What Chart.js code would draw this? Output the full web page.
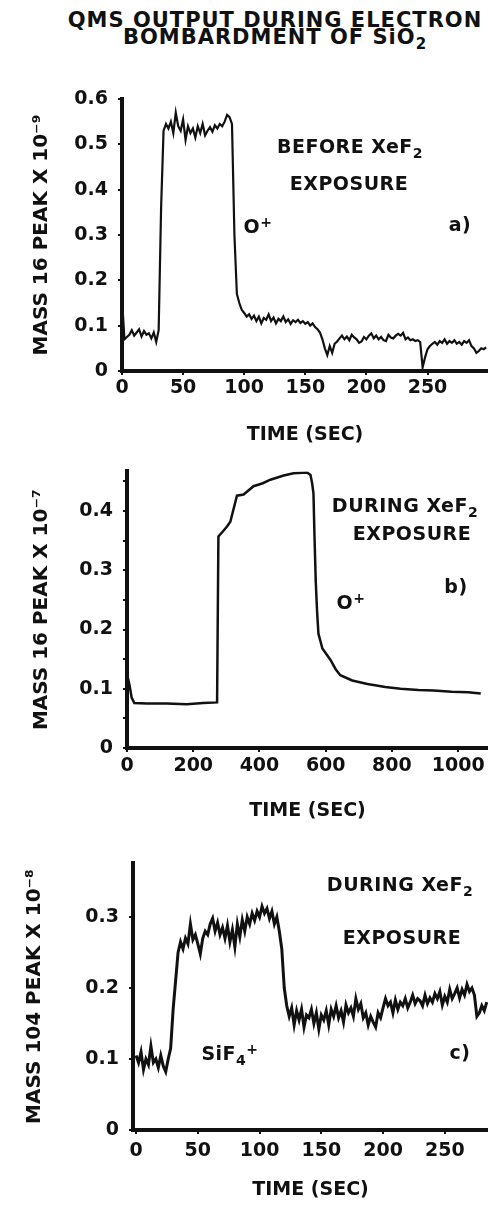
<!DOCTYPE html>
<html>
<head>
<meta charset="utf-8">
<script src="https://cdn.jsdelivr.net/npm/chart.js@4.4.1/dist/chart.umd.min.js"></script>
<style>
  html, body { margin: 0; padding: 0; background: #fff; overflow: hidden; }
  body { width: 488px; height: 1205px; position: relative; font-family: 'DejaVu Sans', sans-serif; color: #111; }
  canvas { position: absolute; left: 0; }
  .title { position: absolute; left: 0; width: 550px; top: 12px; text-align: center; font-weight: bold; font-size: 21px; line-height: 17px; letter-spacing: 1px; }
  .note { position: absolute; font-weight: bold; font-size: 19px; letter-spacing: 0.5px; white-space: nowrap; transform: translate(-50%, -50%); line-height: 20px; }
  .note sub { font-size: 14px; vertical-align: -5px; line-height: 0; }
  .note sup { font-size: 14px; vertical-align: 6px; line-height: 0; }
  .title sub { font-size: 15px; vertical-align: -5px; line-height: 0; }
</style>
</head>
<body>
<div class="title">QMS OUTPUT DURING ELECTRON<br>BOMBARDMENT OF SiO<sub>2</sub></div>

<canvas id="chart-a" width="488" height="395" style="top:55px"></canvas>
<canvas id="chart-b" width="488" height="375" style="top:450px"></canvas>
<canvas id="chart-c" width="488" height="380" style="top:825px"></canvas>

<div class="note" style="left:350px; top:146px">BEFORE XeF<sub>2</sub></div>
<div class="note" style="left:349px; top:183px">EXPOSURE</div>
<div class="note" style="left:258px; top:226px">O<sup>+</sup></div>
<div class="note" style="left:460px; top:224px">a)</div>

<div class="note" style="left:405px; top:505px">DURING XeF<sub>2</sub></div>
<div class="note" style="left:412px; top:533px">EXPOSURE</div>
<div class="note" style="left:456px; top:586px">b)</div>
<div class="note" style="left:351px; top:602px">O<sup>+</sup></div>

<div class="note" style="left:400px; top:884px">DURING XeF<sub>2</sub></div>
<div class="note" style="left:402px; top:937px">EXPOSURE</div>
<div class="note" style="left:230px; top:1053px">SiF<sub>4</sub><sup>+</sup></div>
<div class="note" style="left:460px; top:1052px">c)</div>

<script>
// ------------------------------------------------------------
// data
// ------------------------------------------------------------

// a) mass 16 before XeF2 exposure (x 10^-9)
const timeA = [
  0, 2, 4, 6, 8, 10, 12, 14, 16, 18,
  20, 22, 24, 26, 28, 30, 32, 34, 36, 38,
  40, 42, 44, 46, 48, 50, 52, 54, 56, 58,
  60, 62, 64, 66, 68, 70, 72, 74, 76, 78,
  80, 82, 84, 86, 88, 90, 92, 94, 96, 98,
  100, 102, 104, 106, 108, 110, 112, 114, 116, 118,
  120, 122, 124, 126, 128, 130, 132, 134, 136, 138,
  140, 142, 144, 146, 148, 150, 152, 154, 156, 158,
  160, 162, 164, 166, 168, 170, 172, 174, 176, 178,
  180, 182, 184, 186, 188, 190, 192, 194, 196, 198,
  200, 202, 204, 206, 208, 210, 212, 214, 216, 218,
  220, 222, 224, 226, 228, 230, 232, 234, 236, 238,
  240, 242, 244, 246, 248, 250, 252, 254, 256, 258,
  260, 262, 264, 266, 268, 270, 272, 274, 276, 278,
  280, 282, 284, 286, 288, 290, 292, 294, 296, 298
];
const o16Before = [
  0.16, 0.07, 0.075, 0.08, 0.09, 0.078, 0.085, 0.092, 0.076, 0.088,
  0.08, 0.083, 0.072, 0.085, 0.064, 0.09, 0.36, 0.53, 0.545, 0.535,
  0.55, 0.525, 0.57, 0.54, 0.53, 0.555, 0.51, 0.54, 0.525, 0.535,
  0.515, 0.54, 0.525, 0.545, 0.52, 0.53, 0.538, 0.528, 0.542, 0.535,
  0.545, 0.54, 0.55, 0.565, 0.56, 0.545, 0.30, 0.17, 0.15, 0.135,
  0.128, 0.12, 0.125, 0.115, 0.122, 0.11, 0.12, 0.105, 0.117, 0.113,
  0.125, 0.11, 0.118, 0.105, 0.115, 0.11, 0.12, 0.108, 0.114, 0.104,
  0.112, 0.108, 0.113, 0.106, 0.11, 0.104, 0.108, 0.1, 0.105, 0.097,
  0.092, 0.085, 0.07, 0.05, 0.035, 0.055, 0.04, 0.06, 0.065, 0.072,
  0.078, 0.07, 0.076, 0.068, 0.08, 0.074, 0.07, 0.062, 0.065, 0.075,
  0.07, 0.078, 0.083, 0.072, 0.078, 0.07, 0.075, 0.068, 0.066, 0.08,
  0.074, 0.072, 0.078, 0.082, 0.078, 0.084, 0.07, 0.074, 0.068, 0.07,
  0.066, 0.068, 0.064, 0.008, 0.03, 0.048, 0.055, 0.06, 0.064, 0.058,
  0.066, 0.062, 0.07, 0.06, 0.066, 0.062, 0.068, 0.06, 0.064, 0.058,
  0.066, 0.062, 0.068, 0.055, 0.05, 0.04, 0.044, 0.05, 0.048, 0.052
];
const xTicksA = [0, 50, 100, 150, 200, 250];
const yTicksA = [0, 0.1, 0.2, 0.3, 0.4, 0.5, 0.6];

// b) mass 16 during XeF2 exposure (x 10^-7)
const timeB = [
  0, 4, 8, 14, 22, 60, 120, 180, 230, 272,
  276, 290, 302, 312, 332, 352, 382, 410, 433, 473,
  503, 544, 554, 559, 563, 566, 570, 574, 578, 590,
  614, 630, 644, 680, 726, 780, 826, 880, 926, 980,
  1030, 1068
];
const o16During = [
  0.09, 0.115, 0.105, 0.085, 0.076, 0.075, 0.075, 0.074, 0.076, 0.077,
  0.357, 0.366, 0.374, 0.382, 0.426, 0.428, 0.442, 0.447, 0.453, 0.46,
  0.464, 0.465, 0.461, 0.447, 0.43, 0.36, 0.28, 0.23, 0.193, 0.168,
  0.149, 0.133, 0.123, 0.114, 0.108, 0.103, 0.1, 0.098, 0.097, 0.095,
  0.094, 0.092
];
const xTicksB = [0, 200, 400, 600, 800, 1000];
const yTicksB = [0, 0.05, 0.1, 0.15, 0.2, 0.25, 0.3, 0.35, 0.4, 0.45];

// c) mass 104 (SiF4+) during XeF2 exposure (x 10^-8)
const timeC = [
  0, 2, 4, 6, 8, 10, 12, 14, 16, 18,
  20, 22, 24, 26, 28, 30, 32, 34, 36, 38,
  40, 42, 44, 46, 48, 50, 52, 54, 56, 58,
  60, 62, 64, 66, 68, 70, 72, 74, 76, 78,
  80, 82, 84, 86, 88, 90, 92, 94, 96, 98,
  100, 102, 104, 106, 108, 110, 112, 114, 116, 118,
  120, 122, 124, 126, 128, 130, 132, 134, 136, 138,
  140, 142, 144, 146, 148, 150, 152, 154, 156, 158,
  160, 162, 164, 166, 168, 170, 172, 174, 176, 178,
  180, 182, 184, 186, 188, 190, 192, 194, 196, 198,
  200, 202, 204, 206, 208, 210, 212, 214, 216, 218,
  220, 222, 224, 226, 228, 230, 232, 234, 236, 238,
  240, 242, 244, 246, 248, 250, 252, 254, 256, 258,
  260, 262, 264, 266, 268, 270, 272, 274, 276, 278,
  280, 282, 284
];
const sif4During = [
  0.105, 0.095, 0.11, 0.085, 0.1, 0.092, 0.118, 0.095, 0.1, 0.088,
  0.105, 0.09, 0.082, 0.1, 0.115, 0.17, 0.21, 0.25, 0.265, 0.255,
  0.27, 0.262, 0.29, 0.268, 0.275, 0.262, 0.248, 0.27, 0.28, 0.275,
  0.29, 0.298, 0.28, 0.292, 0.275, 0.285, 0.27, 0.288, 0.265, 0.282,
  0.258, 0.29, 0.272, 0.296, 0.28, 0.3, 0.29, 0.305, 0.295, 0.308,
  0.3, 0.315, 0.305, 0.312, 0.298, 0.308, 0.29, 0.3, 0.28, 0.255,
  0.2, 0.175, 0.16, 0.172, 0.148, 0.168, 0.155, 0.17, 0.145, 0.162,
  0.158, 0.17, 0.15, 0.165, 0.142, 0.162, 0.155, 0.168, 0.148, 0.17,
  0.16, 0.175, 0.158, 0.168, 0.152, 0.176, 0.165, 0.172, 0.16, 0.185,
  0.17, 0.178, 0.158, 0.165, 0.148, 0.16, 0.152, 0.145, 0.165, 0.158,
  0.172, 0.185, 0.175, 0.18, 0.165, 0.183, 0.17, 0.18, 0.175, 0.185,
  0.172, 0.18, 0.19, 0.178, 0.185, 0.182, 0.175, 0.19, 0.178, 0.186,
  0.18, 0.192, 0.185, 0.195, 0.176, 0.188, 0.18, 0.198, 0.185, 0.192,
  0.2, 0.186, 0.198, 0.19, 0.205, 0.195, 0.2, 0.19, 0.16, 0.165,
  0.175, 0.168, 0.18
];
const xTicksC = [0, 50, 100, 150, 200, 250];
const yTicksC = [0, 0.1, 0.2, 0.3];

// ------------------------------------------------------------
// shared panel builder
// ------------------------------------------------------------
const INK = '#111';
const FONT = 'DejaVu Sans';

// only label the tenths (panel b has unlabelled marks at .05)
function fmtTenths(v) {
  const r = Math.round(v * 100);
  if (r % 10 !== 0) return '';
  return String(r / 100);
}

function makePanel(id, times, values, p) {
  const canvas = document.getElementById(id);
  const tickFont = { family: FONT, size: 19, weight: 'bold' };
  const xTitleFont = { family: FONT, size: 19, weight: 'bold' };
  const yTitleFont = { family: FONT, size: 20, weight: 'bold' };
  const tickGrid = { drawOnChartArea: false, drawTicks: true, tickLength: 4, color: INK, lineWidth: 2 };

  return new Chart(canvas, {
    type: 'line',
    data: {
      datasets: [{
        data: times.map((t, i) => ({ x: t, y: values[i] })),
        borderColor: INK,
        borderWidth: p.lineWidth,
        pointRadius: 0,
        tension: 0,
        fill: false,
      }]
    },
    options: {
      responsive: false,
      animation: false,
      events: [],
      layout: { padding: { top: p.padTop, right: 0, bottom: 0, left: 0 } },
      plugins: { legend: { display: false }, tooltip: { enabled: false } },
      scales: {
        x: {
          type: 'linear',
          min: p.xMin, max: p.xMax,
          afterBuildTicks: s => { s.ticks = p.xTicks.map(v => ({ value: v })); },
          afterFit: s => { s.height = p.xHeight; s.paddingRight = 0; s.paddingLeft = 0; },
          ticks: {
            maxRotation: 0, autoSkip: false,
            color: INK, padding: p.xTickPad, font: tickFont,
            callback: v => String(v),
          },
          grid: tickGrid,
          border: { display: true, color: INK, width: 4 },
          title: {
            display: true, text: 'TIME (SEC)', color: INK, font: xTitleFont,
            padding: { top: 0, bottom: p.xTitlePad },
          },
        },
        y: {
          min: 0, max: p.yMax,
          afterBuildTicks: s => { s.ticks = p.yTicks.map(v => ({ value: v })); },
          afterFit: s => { s.width = p.yWidth; },
          ticks: {
            autoSkip: false, color: INK, padding: 10, font: tickFont,
            callback: v => fmtTenths(v),
          },
          grid: tickGrid,
          border: { display: true, color: INK, width: 4 },
          title: {
            display: true, text: p.yTitle, color: INK, font: yTitleFont,
            padding: { top: p.yTitlePad, bottom: 0 },
          },
        }
      }
    }
  });
}

makePanel('chart-a', timeA, o16Before, {
  padTop: 44, xMin: 0, xMax: 299.5, xTicks: xTicksA, xHeight: 79, xTickPad: 2, xTitlePad: 4,
  yMax: 0.6, yTicks: yTicksA, yWidth: 122, yTitlePad: 30, lineWidth: 2.2,
  yTitle: 'MASS 16 PEAK X 10\u207B\u2079',
});

makePanel('chart-b', timeB, o16During, {
  padTop: 13, xMin: 0, xMax: 1090, xTicks: xTicksB, xHeight: 77, xTickPad: 3, xTitlePad: 3,
  yMax: 0.467, yTicks: yTicksB, yWidth: 127, yTitlePad: 30, lineWidth: 2.5,
  yTitle: 'MASS 16 PEAK X 10\u207B\u2077',
});

makePanel('chart-c', timeC, sif4During, {
  padTop: 38, xMin: -2.5, xMax: 285, xTicks: xTicksC, xHeight: 75, xTickPad: 6, xTitlePad: 4,
  yMax: 0.376, yTicks: yTicksC, yWidth: 133, yTitlePad: 23, lineWidth: 3,
  yTitle: 'MASS 104 PEAK X 10\u207B\u2078',
});
</script>
</body>
</html>
